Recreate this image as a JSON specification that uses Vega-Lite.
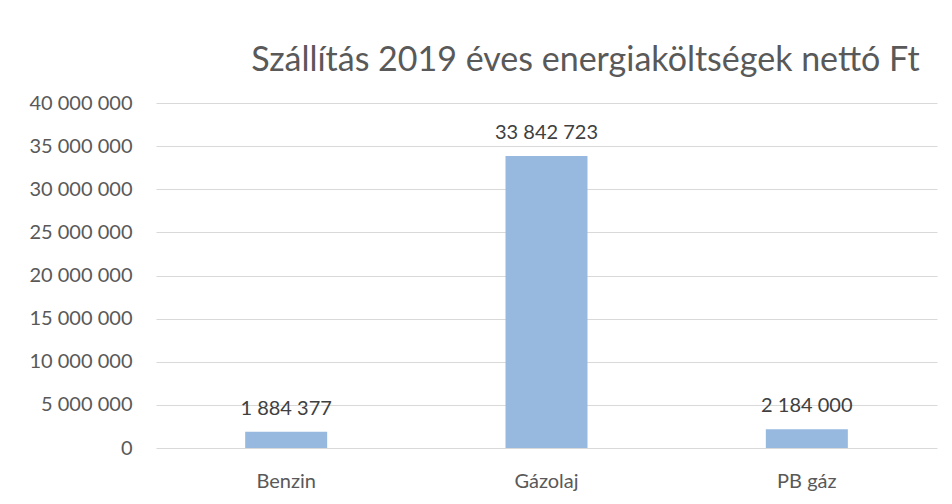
{
  "$schema": "https://vega.github.io/schema/vega-lite/v6.json",
  "autosize": "none",
  "width": 781,
  "height": 345,
  "padding": {"left": 156, "top": 103, "right": 15, "bottom": 56},
  "background": "white",
  "title": {
    "text": "Szállítás 2019 éves energiaköltségek  nettó Ft",
    "font": "Lato",
    "fontSize": 34,
    "fontWeight": "normal",
    "color": "#595959",
    "anchor": "middle",
    "dx": 39,
    "offset": 15
  },
  "data": {
    "values": [
      {"kategoria": "Benzin", "ertek": 1884377, "cimke": "1 884 377"},
      {"kategoria": "Gázolaj", "ertek": 33842723, "cimke": "33 842 723"},
      {"kategoria": "PB gáz", "ertek": 2184000, "cimke": "2 184 000"}
    ]
  },
  "encoding": {
    "x": {
      "field": "kategoria",
      "type": "nominal",
      "sort": null,
      "scale": {"paddingInner": 0.685, "paddingOuter": 0.3425},
      "axis": {
        "title": null,
        "labelAngle": 0,
        "labelFont": "Lato",
        "labelFontSize": 20,
        "labelColor": "#595959",
        "labelBaseline": "alphabetic",
        "labelPadding": 39,
        "domain": false,
        "ticks": false
      }
    },
    "y": {
      "field": "ertek",
      "type": "quantitative",
      "scale": {"domain": [0, 40000000], "nice": false},
      "axis": {
        "title": null,
        "values": [0, 5000000, 10000000, 15000000, 20000000, 25000000, 30000000, 35000000, 40000000],
        "labelExpr": "replace(format(datum.value, ',d'), /,/g, ' ')",
        "labelFont": "Lato",
        "labelFontSize": 20,
        "labelColor": "#595959",
        "labelPadding": 24,
        "domain": false,
        "ticks": false,
        "grid": true,
        "gridColor": "#d9d9d9",
        "gridWidth": 1
      }
    }
  },
  "layer": [
    {"mark": {"type": "bar", "color": "#97b9e0"}},
    {
      "mark": {"type": "text", "baseline": "alphabetic", "dy": -17, "font": "Lato", "fontSize": 20, "color": "#404040"},
      "encoding": {"text": {"field": "cimke"}}
    }
  ],
  "config": {"view": {"stroke": null}}
}
